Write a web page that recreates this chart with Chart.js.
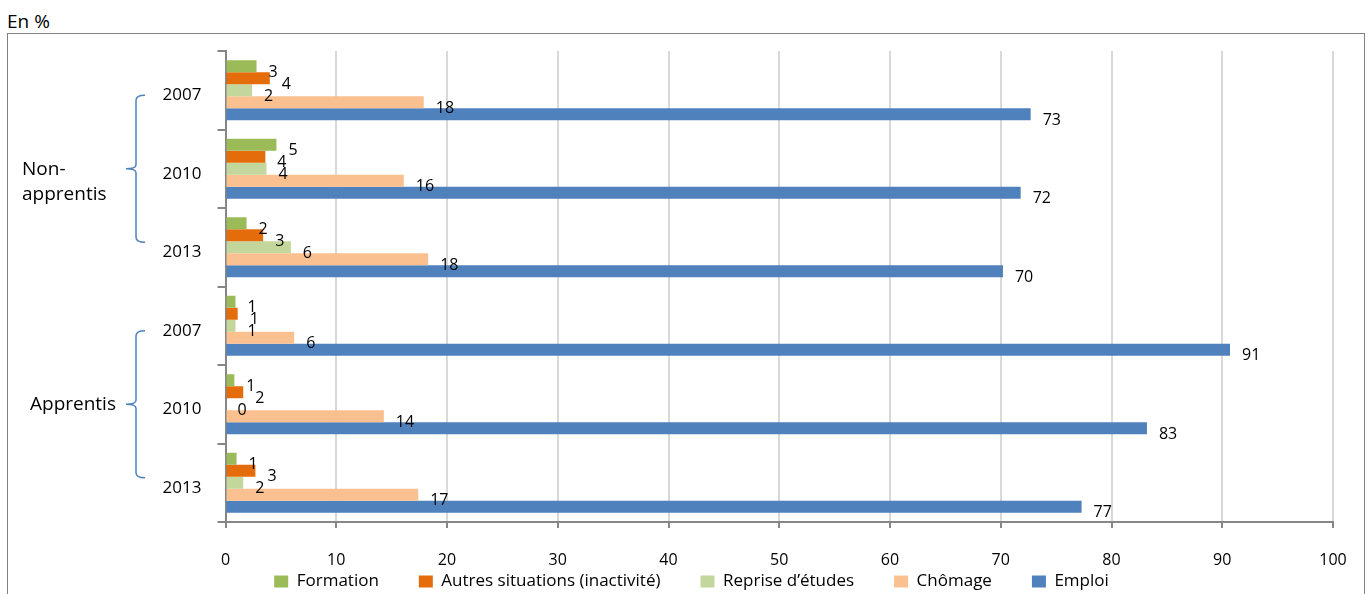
<!DOCTYPE html>
<html>
<head>
<meta charset="utf-8">
<script src="https://cdn.jsdelivr.net/npm/chart.js@4.4.0/dist/chart.umd.min.js"></script>
<style>
    html, body { margin: 0; padding: 0; background: #fff; overflow: hidden; }
    #unit { position: absolute; left: 7px; top: 8px; font: 19px "Open Sans"; line-height: 26px; color: #000; }
    #frame { position: absolute; left: 7px; top: 33px; width: 1358px; height: 600px; border: 1px solid #808080; box-sizing: border-box; }
    #wrap { position: absolute; left: 0; top: 0; width: 1372px; height: 600px; }
</style>
</head>
<body>
<div id="unit">En %</div>
<div id="frame"></div>
<div id="wrap"><canvas id="myChart"></canvas></div>
<script>
// categories, top to bottom
const years = ['2007', '2010', '2013', '2007', '2010', '2013'];
const groups = [
    { label: ['Non-', 'apprentis'], from: 0, to: 2 },
    { label: ['Apprentis'], from: 3, to: 5 }
];

// series (%)
const formation = [2.8, 4.6, 1.9, 0.9, 0.8, 1.0];
const autres    = [4.0, 3.6, 3.4, 1.1, 1.6, 2.7];
const reprise   = [2.4, 3.7, 5.9, 0.9, 0.0, 1.6];
const chomage   = [17.9, 16.1, 18.3, 6.2, 14.3, 17.4];
const emploi    = [72.7, 71.8, 70.2, 90.7, 83.2, 77.3];

const xMin = 0, xMax = 100, xStep = 10;

const FONT = '"Open Sans"';

// value labels at the end of each bar
const valueLabels = {
    id: 'valueLabels',
    afterDatasetsDraw(chart) {
        const ctx = chart.ctx;
        ctx.save();
        ctx.font = '16px ' + FONT;
        ctx.fillStyle = '#000';
        ctx.textBaseline = 'middle';
        ctx.textAlign = 'left';
        chart.data.datasets.forEach((ds, i) => {
            chart.getDatasetMeta(i).data.forEach((bar, j) => {
                ctx.fillText(Math.round(ds.data[j]), bar.x + 12, bar.y + 6);
            });
        });
        ctx.restore();
    }
};

// braces + group names on the left
const groupBraces = {
    id: 'groupBraces',
    afterDraw(chart) {
        const ctx = chart.ctx;
        const y = chart.scales.y;
        const labelX = [22, 30];
        ctx.save();
        groups.forEach((g, k) => {
            const top = y.getPixelForValue(g.from) + 5;
            const bot = y.getPixelForValue(g.to) - 5;
            const mid = (top + bot) / 2;
            const xl = 136, xr = 145, xt = 126;
            ctx.strokeStyle = '#4f81bd';
            ctx.lineWidth = 1.5;
            ctx.beginPath();
            ctx.moveTo(xr, top);
            ctx.quadraticCurveTo(xl, top, xl, top + 5);
            ctx.lineTo(xl, mid - 4);
            ctx.quadraticCurveTo(xl, mid, xt, mid);
            ctx.quadraticCurveTo(xl, mid, xl, mid + 4);
            ctx.lineTo(xl, bot - 5);
            ctx.quadraticCurveTo(xl, bot, xr, bot);
            ctx.stroke();

            ctx.fillStyle = '#000';
            ctx.font = '19px ' + FONT;
            ctx.textBaseline = 'alphabetic';
            ctx.textAlign = 'left';
            g.label.forEach((line, n) => {
                ctx.fillText(line, labelX[k], mid + 6 + n * 25);
            });
        });
        ctx.restore();
    }
};

const ctx = document.getElementById('myChart').getContext('2d');
const myChartObj = new Chart(ctx, {
    type: 'bar',
    data: {
        labels: years,
        datasets: [
            { label: 'Formation', data: formation, backgroundColor: '#9bbb59' },
            { label: 'Autres situations (inactivité)', data: autres, backgroundColor: '#e46c0a' },
            { label: 'Reprise d\u2019études', data: reprise, backgroundColor: '#c3d69b' },
            { label: 'Chômage', data: chomage, backgroundColor: '#fac090' },
            { label: 'Emploi', data: emploi, backgroundColor: '#4f81bd' }
        ]
    },
    options: {
        indexAxis: 'y',
        responsive: true,
        maintainAspectRatio: false,
        animation: false,
        events: [],
        datasets: {
            bar: { categoryPercentage: 0.765, barPercentage: 1.0, borderWidth: 0 }
        },
        layout: { padding: { top: 51, right: 39, left: 50, bottom: 0 } },
        scales: {
            x: {
                min: xMin,
                max: xMax,
                ticks: { stepSize: xStep, color: '#000', font: { family: FONT, size: 16 }, padding: 23, maxRotation: 0 },
                grid: { color: '#d9d9d9', lineWidth: 2, tickColor: '#868686', tickLength: 6 },
                border: { color: '#868686', width: 2 },
                afterFit(scale) { scale.height = 50; }
            },
            y: {
                ticks: { color: '#000', font: { family: FONT, size: 17 }, padding: 16, labelOffset: 5 },
                grid: { drawOnChartArea: false, color: '#868686', lineWidth: 2, tickLength: 8 },
                border: { color: '#868686', width: 2 },
                afterFit(scale) { scale.width = 175.5; }
            }
        },
        plugins: {
            tooltip: { enabled: false },
            legend: {
                position: 'bottom',
                // empty title with negative padding pulls the legend row up close to the tick labels
                title: { display: true, text: '', font: { size: 1, lineHeight: 1 }, padding: { top: 0, bottom: -40 } },
                labels: {
                    boxWidth: 14,
                    boxHeight: 12,
                    padding: 40,
                    color: '#000',
                    font: { family: FONT, size: 17 }
                }
            }
        }
    },
    plugins: [valueLabels, groupBraces]
});
</script>
</body>
</html>
